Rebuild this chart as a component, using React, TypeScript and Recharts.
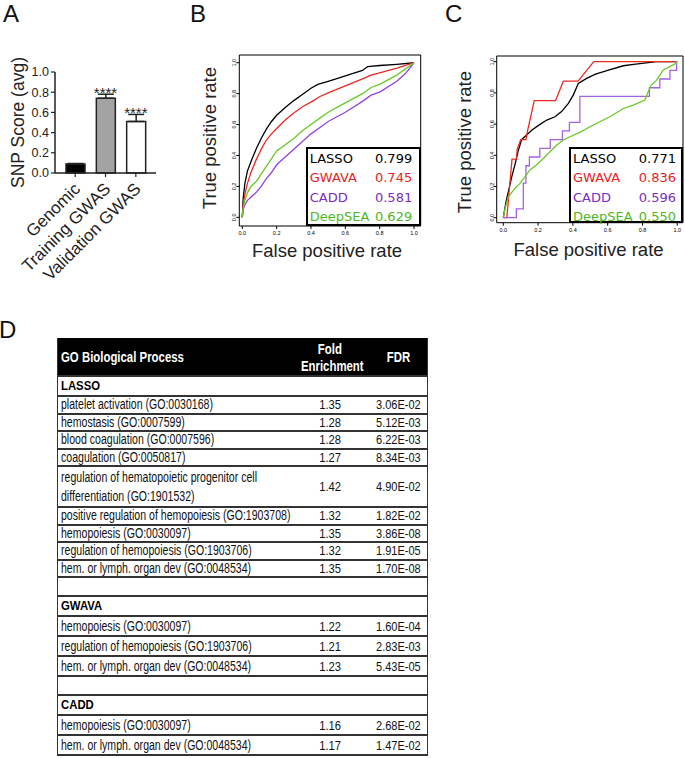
import React from 'react';
import {
  ComposedChart,
  Bar,
  Cell,
  ErrorBar,
  Line,
  LineChart,
  XAxis,
  YAxis,
  LabelList,
  ReferenceArea,
} from 'recharts';

// ---------- Panel A data ----------
const categories = ['Genomic', 'Training GWAS', 'Validation GWAS'];
const snpScore = [0.09, 0.74, 0.51];
const snpErr = [0.004, 0.04, 0.07];
const significance = ['', '****', '****'];
const barFills = ['#000000', '#a3a3a3', '#ffffff'];
const scoreTicks = [0, 0.2, 0.4, 0.6, 0.8, 1.0];

// ---------- Panels B/C data ----------
const methods = ['LASSO', 'GWAVA', 'CADD', 'DeepSEA'];
const lineColors = ['#000000', '#ec2a22', '#9444dc', '#66c92a'];
const textColors = ['#000000', '#e8231c', '#7a2cc4', '#4fb81d'];
const aucB = ['0.799', '0.745', '0.581', '0.629'];
const aucC = ['0.771', '0.836', '0.596', '0.550'];
const rateTicks = [0, 0.2, 0.4, 0.6, 0.8, 1.0];

const rocB_LASSO = [[0,0],[0.005,0.12],[0.015,0.22],[0.03,0.3],[0.05,0.36],[0.08,0.44],[0.11,0.51],[0.14,0.57],[0.17,0.62],[0.2,0.66],[0.25,0.71],[0.3,0.755],[0.35,0.795],[0.4,0.835],[0.44,0.86],[0.5,0.88],[0.6,0.915],[0.7,0.95],[0.73,0.975],[0.8,0.982],[0.9,0.99],[1,1]];
const rocB_GWAVA = [[0,0],[0.005,0.08],[0.015,0.15],[0.03,0.22],[0.05,0.29],[0.08,0.37],[0.11,0.44],[0.14,0.5],[0.17,0.54],[0.2,0.575],[0.25,0.63],[0.3,0.675],[0.35,0.715],[0.4,0.745],[0.45,0.78],[0.5,0.805],[0.6,0.85],[0.7,0.895],[0.75,0.92],[0.8,0.935],[0.9,0.965],[1,1]];
const rocB_CADD = [[0,0],[0.005,0.05],[0.015,0.08],[0.03,0.11],[0.05,0.13],[0.08,0.16],[0.11,0.2],[0.14,0.25],[0.17,0.29],[0.2,0.34],[0.25,0.39],[0.3,0.44],[0.35,0.49],[0.4,0.54],[0.45,0.58],[0.5,0.62],[0.6,0.68],[0.7,0.75],[0.75,0.79],[0.8,0.81],[0.9,0.88],[0.95,0.93],[1,1]];
const rocB_DeepSEA = [[0,0],[0.005,0.06],[0.015,0.11],[0.03,0.16],[0.05,0.2],[0.08,0.23],[0.11,0.28],[0.14,0.33],[0.17,0.38],[0.2,0.43],[0.25,0.47],[0.3,0.51],[0.35,0.56],[0.4,0.6],[0.45,0.64],[0.5,0.68],[0.6,0.74],[0.7,0.8],[0.75,0.84],[0.8,0.86],[0.9,0.92],[1,1]];

const rocC_LASSO = [[0,0],[0.015,0.1],[0.029,0.167],[0.048,0.26],[0.067,0.34],[0.086,0.43],[0.105,0.5],[0.134,0.53],[0.163,0.56],[0.2,0.59],[0.25,0.626],[0.297,0.647],[0.335,0.68],[0.374,0.733],[0.402,0.786],[0.431,0.86],[0.479,0.893],[0.53,0.92],[0.6,0.945],[0.69,0.974],[0.75,0.983],[0.88,1.0],[1,1]];
const rocC_GWAVA = [[0,0],[0.02,0],[0.04,0.25],[0.05,0.375],[0.075,0.375],[0.08,0.44],[0.1,0.5],[0.13,0.5],[0.14,0.56],[0.178,0.75],[0.3,0.75],[0.345,0.875],[0.43,0.875],[0.52,1],[1,1]];
const rocC_CADD = [[0,0],[0.075,0],[0.075,0.056],[0.115,0.056],[0.115,0.222],[0.13,0.222],[0.13,0.333],[0.15,0.333],[0.15,0.389],[0.21,0.389],[0.21,0.444],[0.27,0.444],[0.27,0.5],[0.34,0.5],[0.34,0.556],[0.38,0.556],[0.38,0.611],[0.44,0.611],[0.44,0.778],[0.84,0.778],[0.84,0.833],[0.9,0.833],[0.9,0.889],[0.958,0.889],[0.958,0.944],[0.996,0.944],[0.996,1],[1,1]];
const rocC_DeepSEA = [[0,0],[0.01,0.06],[0.029,0.135],[0.067,0.188],[0.096,0.22],[0.125,0.263],[0.153,0.306],[0.19,0.338],[0.23,0.38],[0.268,0.423],[0.307,0.466],[0.345,0.498],[0.383,0.519],[0.44,0.547],[0.498,0.583],[0.555,0.615],[0.613,0.647],[0.69,0.7],[0.747,0.722],[0.814,0.754],[0.833,0.808],[0.85,0.85],[0.88,0.88],[0.92,0.947],[0.958,0.968],[0.993,0.99],[1,1]];

// ---------- Panel D data ----------
const lassoTerms = [
  'platelet activation (GO:0030168)',
  'hemostasis (GO:0007599)',
  'blood coagulation (GO:0007596)',
  'coagulation (GO:0050817)',
  'regulation of hematopoietic progenitor cell\ndifferentiation (GO:1901532)',
  'positive regulation of hemopoiesis (GO:1903708)',
  'hemopoiesis (GO:0030097)',
  'regulation of hemopoiesis (GO:1903706)',
  'hem. or lymph. organ dev (GO:0048534)',
];
const lassoFold = ['1.35', '1.28', '1.28', '1.27', '1.42', '1.32', '1.35', '1.32', '1.35'];
const lassoFdr = ['3.06E-02', '5.12E-03', '6.22E-03', '8.34E-03', '4.90E-02', '1.82E-02', '3.86E-08', '1.91E-05', '1.70E-08'];
const gwavaTerms = ['hemopoiesis (GO:0030097)', 'regulation of hemopoiesis (GO:1903706)', 'hem. or lymph. organ dev (GO:0048534)'];
const gwavaFold = ['1.22', '1.21', '1.23'];
const gwavaFdr = ['1.60E-04', '2.83E-03', '5.43E-05'];
const caddTerms = ['hemopoiesis (GO:0030097)', 'hem. or lymph. organ dev (GO:0048534)'];
const caddFold = ['1.16', '1.17'];
const caddFdr = ['2.68E-02', '1.47E-02'];

const SANS = '"Liberation Sans", Arial, sans-serif';

const barData = categories.map((c, i) => ({
  name: c,
  value: snpScore[i],
  err: [0, snpErr[i]],
  top: snpScore[i] + snpErr[i],
  stars: significance[i],
}));

const toPts = (arr: number[][]) => arr.map(([x, y]) => ({ x, y }));

const SlantTick = (props: any) => {
  const { x, y, payload } = props;
  const ax = x + 6;
  const ay = y + 11;
  return (
    <g transform={`translate(${ax},${ay}) rotate(-45)`}>
      <text x={0} y={0} textAnchor="end" fontSize={17} fill="#222" fontFamily={SANS}>
        {payload.value}
      </text>
    </g>
  );
};

const StarLabel = (props: any) => {
  const { x, y, value } = props;
  if (!value) return null;
  return (
    <text x={x} y={y + 4} textAnchor="middle" fontSize={15} fill="#222" fontFamily={SANS}>
      {value}
    </text>
  );
};

const VTick = (props: any) => {
  const { x, y, payload } = props;
  const bx = x + 2;
  return (
    <text x={bx} y={y} transform={`rotate(-90 ${bx} ${y})`} textAnchor="middle" fontSize={5.5} fill="#000" fontFamily={SANS}>
      {Number(payload.value).toFixed(1)}
    </text>
  );
};

type RocProps = {
  curves: number[][][];
  colors: string[];
  xDomain: [number, number];
  yDomain: [number, number];
  width: number;
  height: number;
  margin: { top: number; right: number; bottom: number; left: number };
};

const RocChart = ({ curves, colors, xDomain, yDomain, width, height, margin }: RocProps) => (
  <LineChart width={width} height={height} margin={margin}>
    <XAxis
      type="number"
      dataKey="x"
      domain={xDomain}
      ticks={rateTicks}
      allowDataOverflow
      tickFormatter={(v: number) => v.toFixed(1)}
      tick={{ fontSize: 5.5, fill: '#000', fontFamily: SANS }}
      tickSize={3}
      tickLine={{ stroke: '#000' }}
      axisLine={false}
      height={15}
    />
    <YAxis
      type="number"
      dataKey="y"
      domain={yDomain}
      ticks={rateTicks}
      allowDataOverflow
      tick={<VTick />}
      tickSize={3}
      tickLine={{ stroke: '#000' }}
      axisLine={false}
      width={20}
    />
    <ReferenceArea x1={xDomain[0]} x2={xDomain[1]} y1={yDomain[0]} y2={yDomain[1]} fill="none" fillOpacity={0} stroke="#000" strokeWidth={1} />
    {curves.map((c, i) => (
      <Line
        key={i}
        data={toPts(c)}
        dataKey="y"
        type="linear"
        stroke={colors[i]}
        strokeWidth={1.3}
        dot={false}
        activeDot={false}
        isAnimationActive={false}
      />
    ))}
  </LineChart>
);

const RocLegend = ({ left, top, width, height, values, padL, padR }: any) => (
  <div
    style={{
      position: 'absolute',
      left,
      top,
      width,
      height,
      boxSizing: 'border-box',
      border: '2px solid #000',
      background: '#fff',
      fontFamily: '"DejaVu Sans", sans-serif',
      fontSize: 13,
    }}
  >
    {methods.map((m, i) => (
      <div
        key={m}
        style={{
          height: 19.5,
          lineHeight: '19.5px',
          display: 'flex',
          justifyContent: 'space-between',
          paddingLeft: padL,
          paddingRight: padR,
          color: textColors[i],
          whiteSpace: 'nowrap',
        }}
      >
        <span>{m}</span>
        <span>{values[i]}</span>
      </div>
    ))}
  </div>
);

const Title = ({ cx, cy, text, size, rotate }: any) => (
  <div
    style={{
      position: 'absolute',
      left: cx - 100,
      top: cy - size * 0.6,
      width: 200,
      height: size * 1.2,
      lineHeight: `${size * 1.2}px`,
      textAlign: 'center',
      fontFamily: SANS,
      fontSize: size,
      color: '#222',
      transform: rotate ? 'rotate(-90deg)' : undefined,
      whiteSpace: 'nowrap',
    }}
  >
    {text}
  </div>
);

const Letter = ({ x, y, text }: any) => (
  <div style={{ position: 'absolute', left: x, top: y, fontFamily: SANS, fontSize: 24, lineHeight: '24px', color: '#111' }}>{text}</div>
);

// horizontally condensed text (reference uses a narrow face)
const Sq = ({ k, children, origin }: any) => (
  <span style={{ display: 'inline-block', transform: `scaleX(${k})`, transformOrigin: origin || 'center center', whiteSpace: 'nowrap' }}>
    {children}
  </span>
);

const rowBorder = '2px solid #333';
const ROW_K = 0.754;
const COL1 = 233;

const Row = ({ term, fold, fdr, h }: any) => (
  <div
    style={{
      display: 'flex',
      alignItems: 'center',
      height: h,
      boxSizing: 'border-box',
      borderBottom: rowBorder,
      fontFamily: SANS,
      fontSize: 14,
      color: '#111',
    }}
  >
    <div style={{ width: COL1, flexShrink: 0, paddingLeft: 3, boxSizing: 'border-box', overflow: 'visible' }}>
      <div style={{ width: 400, transform: `scaleX(${ROW_K})`, transformOrigin: 'left center', lineHeight: '19px', whiteSpace: 'pre-line' }}>{term}</div>
    </div>
    <div style={{ width: 78, flexShrink: 0, textAlign: 'center', fontSize: 13.5 }}>
      <Sq k={0.83}>{fold}</Sq>
    </div>
    <div style={{ flex: 1, textAlign: 'center', fontSize: 13.5 }}>
      <Sq k={0.815}>{fdr}</Sq>
    </div>
  </div>
);

const Section = ({ label, h }: any) => (
  <div
    style={{
      height: h,
      boxSizing: 'border-box',
      borderBottom: rowBorder,
      fontFamily: SANS,
      fontWeight: 'bold',
      fontSize: 13.5,
      lineHeight: `${h - 2}px`,
      paddingLeft: 3,
      color: '#000',
    }}
  >
    {label ? (
      <Sq k={0.84} origin="left center">
        {label}
      </Sq>
    ) : null}
  </div>
);

const GoTable = () => (
  <div
    style={{
      position: 'absolute',
      left: 57,
      top: 338,
      width: 371,
      boxSizing: 'border-box',
      borderLeft: '1.5px solid #333',
      borderRight: '1.5px solid #333',
      background: '#fff',
    }}
  >
    <div
      style={{
        height: 39,
        background: '#000',
        color: '#fff',
        display: 'flex',
        alignItems: 'center',
        fontFamily: SANS,
        fontWeight: 'bold',
        fontSize: 15,
        borderBottom: rowBorder,
        boxSizing: 'border-box',
      }}
    >
      <div style={{ width: COL1, flexShrink: 0, paddingLeft: 3, boxSizing: 'border-box' }}>
        <Sq k={0.76} origin="left center">
          GO Biological Process
        </Sq>
      </div>
      <div style={{ width: 78, flexShrink: 0, textAlign: 'center', lineHeight: '17px' }}>
        <Sq k={0.76}>Fold</Sq>
        <br />
        <Sq k={0.76}>Enrichment</Sq>
      </div>
      <div style={{ flex: 1, textAlign: 'center' }}>
        <Sq k={0.76}>FDR</Sq>
      </div>
    </div>
    <Section label="LASSO" h={20} />
    {lassoTerms.map((t, i) => (
      <Row key={'l' + i} term={t} fold={lassoFold[i]} fdr={lassoFdr[i]} h={t.includes('\n') ? 41 : 17.5} />
    ))}
    <Section label="" h={19} />
    <Section label="GWAVA" h={20} />
    {gwavaTerms.map((t, i) => (
      <Row key={'g' + i} term={t} fold={gwavaFold[i]} fdr={gwavaFdr[i]} h={20} />
    ))}
    <Section label="" h={19} />
    <Section label="CADD" h={20} />
    {caddTerms.map((t, i) => (
      <Row key={'c' + i} term={t} fold={caddFold[i]} fdr={caddFdr[i]} h={20} />
    ))}
  </div>
);

export default function App() {
  return (
    <div style={{ position: 'absolute', left: 0, top: 0, width: 685, height: 758, background: '#fff', overflow: 'hidden' }}>
      <Letter x={3} y={2} text="A" />
      <Letter x={190} y={2} text="B" />
      <Letter x={445} y={2} text="C" />
      <Letter x={-1} y={318} text="D" />

      {/* Panel A */}
      <div style={{ position: 'absolute', left: 0, top: 0 }}>
        <ComposedChart width={165} height={300} data={barData} margin={{ top: 72, right: 9, bottom: 7, left: 22 }}>
          <XAxis
            dataKey="name"
            interval={0}
            tick={<SlantTick />}
            height={120}
            tickSize={4}
            tickLine={{ stroke: '#222', strokeWidth: 1.2 }}
            axisLine={{ stroke: '#222', strokeWidth: 1.5 }}
            padding={{ left: 5, right: 5 }}
          />
          <YAxis
            domain={[0, 1]}
            ticks={scoreTicks}
            tickFormatter={(v: number) => v.toFixed(1)}
            tick={{ fontSize: 12.5, fill: '#222', fontFamily: SANS }}
            tickSize={4}
            tickLine={{ stroke: '#222', strokeWidth: 1.2 }}
            axisLine={{ stroke: '#222', strokeWidth: 1.5 }}
            width={33}
          />
          <Bar dataKey="value" barSize={19} stroke="#222" strokeWidth={1.5} isAnimationActive={false}>
            {barData.map((d, i) => (
              <Cell key={d.name} fill={barFills[i]} />
            ))}
            <ErrorBar dataKey="err" width={8} stroke="#222" strokeWidth={1.5} direction="y" />
          </Bar>
          <Line dataKey="top" stroke="none" dot={false} activeDot={false} isAnimationActive={false}>
            <LabelList dataKey="stars" content={<StarLabel />} />
          </Line>
        </ComposedChart>
      </div>
      <Title cx={18} cy={122} text="SNP Score (avg)" size={17.5} rotate />

      {/* Panel B */}
      <div style={{ position: 'absolute', left: 185, top: 40 }}>
        <RocChart
          curves={[rocB_LASSO, rocB_GWAVA, rocB_CADD, rocB_DeepSEA]}
          colors={lineColors}
          xDomain={[-0.0175, 1.039]}
          yDomain={[-0.056, 1.05]}
          width={250}
          height={230}
          margin={{ top: 15, right: 14.3, bottom: 29, left: 34.3 }}
        />
      </div>
      <RocLegend left={305.7} top={146.7} width={115} height={79.3} values={aucB} padL={2} padR={6.5} />
      <Title cx={210} cy={138} text="True positive rate" size={18.5} rotate />
      <Title cx={327} cy={251} text="False positive rate" size={18.5} />

      {/* Panel C */}
      <div style={{ position: 'absolute', left: 440, top: 40 }}>
        <RocChart
          curves={[rocC_LASSO, rocC_GWAVA, rocC_CADD, rocC_DeepSEA]}
          colors={['#000000', '#ec2a22', '#a262e6', '#66c92a']}
          xDomain={[-0.038, 1.033]}
          yDomain={[-0.032, 1.0365]}
          width={245}
          height={230}
          margin={{ top: 16, right: 2, bottom: 32.3, left: 36.7 }}
        />
      </div>
      <RocLegend left={569} top={146.7} width={114} height={76} values={aucC} padL={2} padR={5} />
      <Title cx={465} cy={142} text="True positive rate" size={18.5} rotate />
      <Title cx={588.5} cy={250} text="False positive rate" size={18.5} />

      {/* Panel D */}
      <GoTable />
    </div>
  );
}
